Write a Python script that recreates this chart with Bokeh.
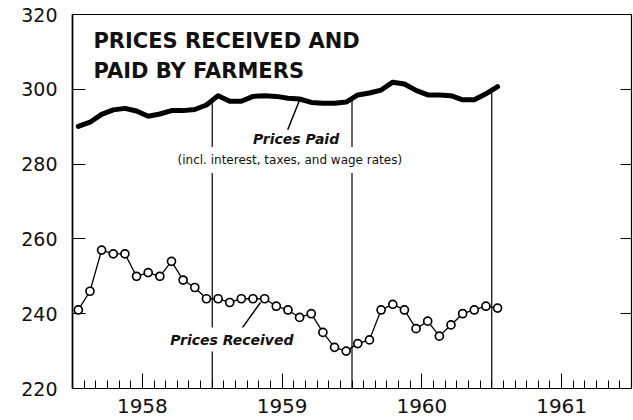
import numpy as np
from bokeh.plotting import figure
from bokeh.models import Range1d, LinearAxis, FixedTicker, Label
from bokeh.embed import file_html
from bokeh.resources import INLINE

# ---------------- data ----------------
year_starts = [1958, 1959, 1960, 1961, 1962]
year_labels = ["1958", "1959", "1960", "1961"]
# monthly observations, Jan 1958 .. Jan 1961 (37 months)
n_months = 37
prices_received = [241, 246, 257, 256, 256, 250, 251, 250, 254, 249, 247, 244,
                   244, 243, 244, 244, 244, 242, 241, 239, 240, 235, 231, 230,
                   232, 233, 241, 242.5, 241, 236, 238, 234, 237, 240, 241, 242,
                   241.5]
prices_paid = [290.1, 291.2, 293.3, 294.5, 294.9, 294.2, 292.8, 293.4, 294.3, 294.3, 294.6, 295.8,
               298.3, 296.8, 296.8, 298.1, 298.3, 298.1, 297.6, 297.4, 296.5, 296.3, 296.3, 296.6,
               298.5, 299.0, 299.8, 301.9, 301.4, 299.7, 298.5, 298.5, 298.3, 297.2, 297.2, 298.8,
               300.7]
y_ticks = [220, 240, 260, 280, 300, 320]

title_lines = ["PRICES RECEIVED AND", "PAID BY FARMERS"]
paid_label = "Prices Paid"
paid_note = "(incl. interest, taxes, and wage rates)"
received_label = "Prices Received"

# ---------------- derived positions ----------------
x_months = [year_starts[0] + (i + 0.5) / 12 for i in range(n_months)]
mid_years = [y + 0.5 for y in year_starts[:-1]]
month_bounds = [year_starts[0] + m / 12 for m in range(12 * 4 + 1)]

FONT = "DejaVu Sans"

p = figure(width=633, height=420, output_backend="svg", toolbar_location=None,
           x_range=Range1d(year_starts[0], year_starts[-1]),
           y_range=Range1d(y_ticks[0], y_ticks[-1]),
           min_border_left=72, min_border_right=2, min_border_top=14,
           min_border_bottom=32)
p.xgrid.visible = False
p.ygrid.visible = False
p.outline_line_color = "black"
p.outline_line_width = 1.2
p.background_fill_color = "white"
p.border_fill_color = "white"

# bottom axis
xa = p.xaxis[0]
xa.ticker = FixedTicker(ticks=mid_years, minor_ticks=month_bounds)
xa.major_label_overrides = {m: lab for m, lab in zip(mid_years, year_labels)}
xa.major_tick_in = 15
xa.major_tick_out = 0
xa.minor_tick_in = 8
xa.minor_tick_out = 0
xa.major_tick_line_color = "black"
xa.minor_tick_line_color = "black"
xa.axis_line_color = "black"
xa.axis_line_width = 1.2
xa.major_label_standoff = 10
xa.major_label_text_font = FONT
xa.major_label_text_font_size = "20px"
xa.major_label_text_color = "#111111"

# left axis
ya = p.yaxis[0]
ya.ticker = FixedTicker(ticks=y_ticks)
ya.major_tick_in = 13
ya.major_tick_out = 0
ya.minor_tick_in = 0
ya.minor_tick_out = 0
ya.axis_line_color = "black"
ya.axis_line_width = 1.6
ya.major_label_standoff = 15
ya.major_label_text_font = FONT
ya.major_label_text_font_size = "19px"
ya.major_label_text_color = "#111111"

# right axis (ticks only, no labels)
ra = LinearAxis(ticker=FixedTicker(ticks=y_ticks), major_tick_in=11, major_tick_out=0,
                minor_tick_in=0, minor_tick_out=0, major_label_text_color=None,
                major_label_standoff=0, axis_line_color="black")
p.add_layout(ra, "right")

# year-boundary vertical lines up to the prices-paid curve
bounds = year_starts[1:-1]
tops = list(np.interp(bounds, x_months, prices_paid))
p.segment(x0=bounds, y0=[y_ticks[0]] * len(bounds), x1=bounds, y1=tops,
          line_color="black", line_width=1.2)

# prices paid: thick line
p.line(x_months, prices_paid, line_color="black", line_width=5,
       line_join="round", line_cap="round")

# prices received: line with open circles
p.line(x_months, prices_received, line_color="black", line_width=1.3)
p.scatter(x_months, prices_received, marker="circle", size=8,
          fill_color="white", line_color="black", line_width=1.7)

# leader lines
p.segment(x0=[1959.54, 1959.215], y0=[289.2, 236.2], x1=[1959.63, 1959.345], y1=[297.6, 243.0],
          line_color="black", line_width=1.5)

# title
for txt, yb in zip(title_lines, [312.9, 305.0]):
    p.add_layout(Label(x=1958.15, y=yb, text=txt, text_font=FONT,
                       text_font_size="21px", text_font_style="bold",
                       text_align="left", text_baseline="alphabetic",
                       text_color="#111111"))

# series labels (white background interrupts the vertical lines)
p.add_layout(Label(x=1959.60, y=286.6, text=paid_label, text_font=FONT,
                   text_font_size="14px", text_font_style="bold italic",
                   text_align="center", text_baseline="middle", text_color="#111111",
                   background_fill_color="white"))
p.add_layout(Label(x=1959.555, y=281.1, text=paid_note, text_font=FONT,
                   text_font_size="12px", text_align="center", text_baseline="middle",
                   text_color="#111111", background_fill_color="white", padding=6))
p.add_layout(Label(x=1959.14, y=233.1, text=received_label, text_font=FONT,
                   text_font_size="14px", text_font_style="bold italic",
                   text_align="center", text_baseline="middle", text_color="#111111",
                   background_fill_color="white", padding=4))

open("out.html", "w").write(file_html(p, INLINE))
